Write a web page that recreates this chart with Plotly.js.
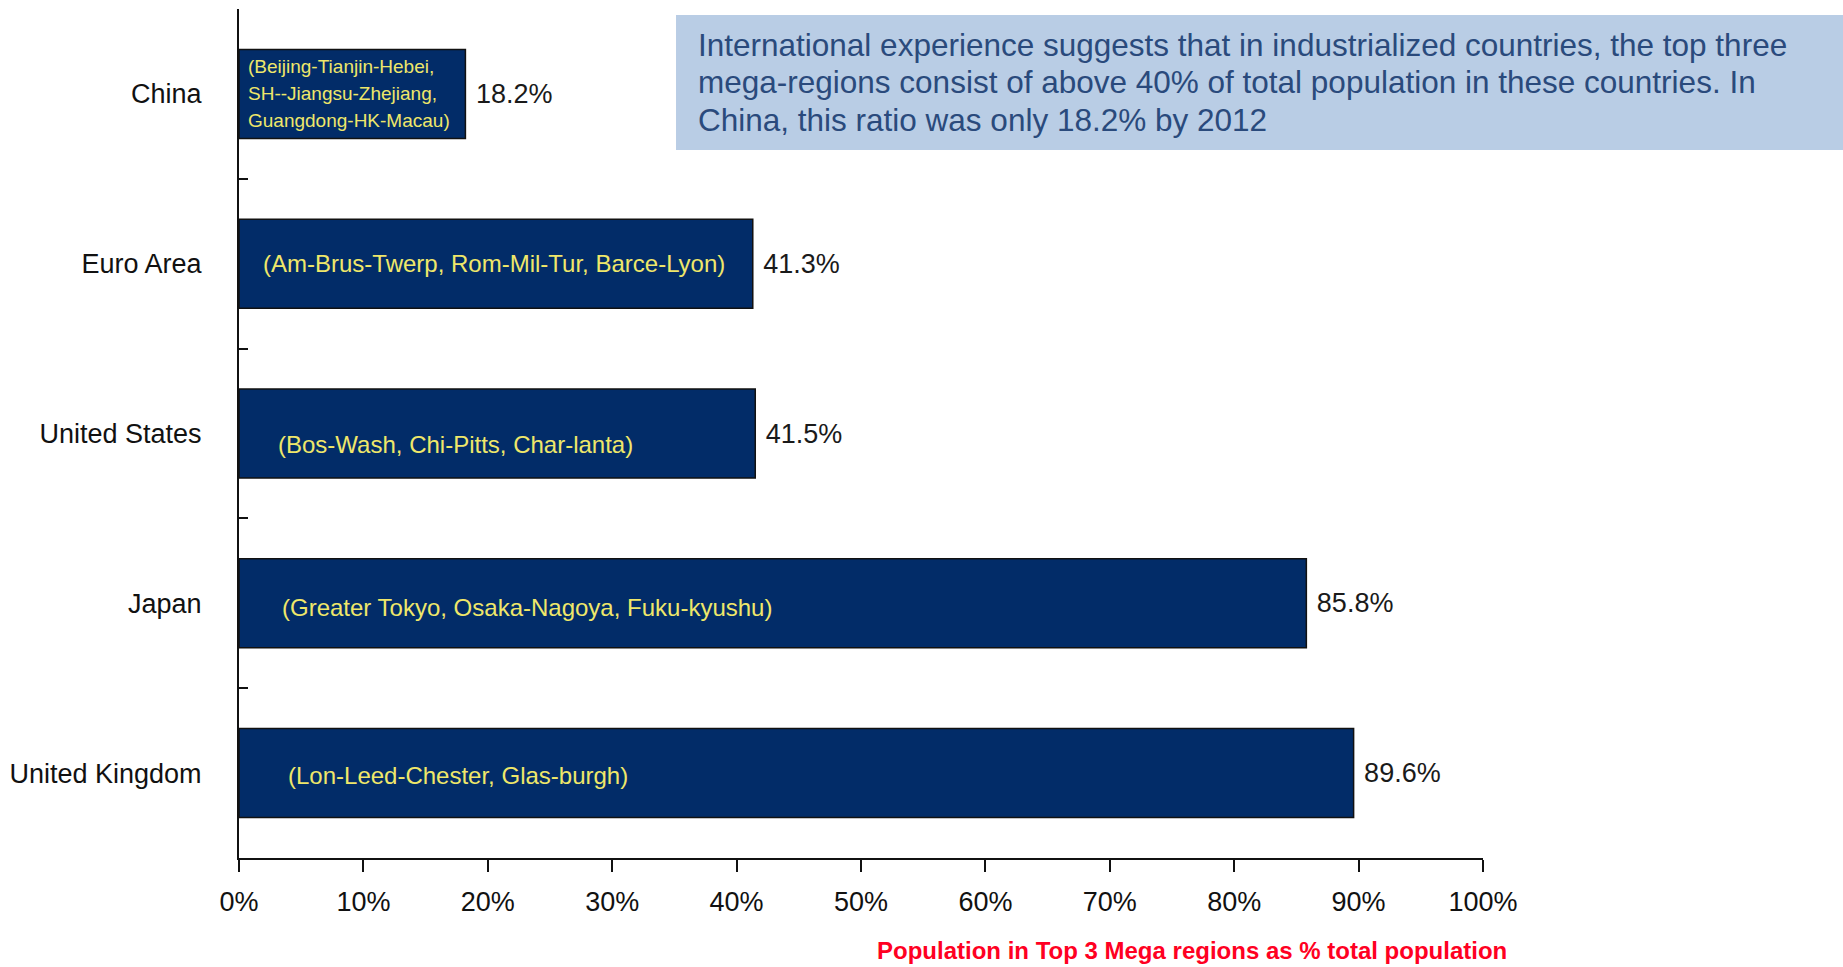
<!DOCTYPE html>
<html>
<head>
<meta charset="utf-8">
<script src="https://cdn.plot.ly/plotly-3.0.1.min.js"></script>
<style>
  html, body { margin: 0; padding: 0; background: #ffffff; }
  #chart { width: 1843px; height: 967px; }
</style>
</head>
<body>
<div id="chart"></div>
<script>
// ---- data ----
const categories = ["China", "Euro Area", "United States", "Japan", "United Kingdom"];
const shares = [18.2, 41.3, 41.5, 85.8, 89.6];
const regionLabels = [
  "(Beijing-Tianjin-Hebei,<br>SH--Jiangsu-Zhejiang,<br>Guangdong-HK-Macau)",
  "(Am-Brus-Twerp, Rom-Mil-Tur, Barce-Lyon)",
  "(Bos-Wash, Chi-Pitts, Char-lanta)",
  "(Greater Tokyo, Osaka-Nagoya, Fuku-kyushu)",
  "(Lon-Leed-Chester, Glas-burgh)"
];
const xTickVals = [0, 10, 20, 30, 40, 50, 60, 70, 80, 90, 100];
const xTickText = ["0%", "10%", "20%", "30%", "40%", "50%", "60%", "70%", "80%", "90%", "100%"];
const noteLines = [
  "International experience suggests that in industrialized countries, the top three",
  "mega-regions consist of above 40% of total population in these countries. In",
  "China, this ratio was only 18.2% by 2012"
];
const xAxisTitle = "Population in Top 3 Mega regions as % total population";

// ---- styling ----
const FONT = "'Liberation Sans', Arial, sans-serif";
const insideStyle = [
  {dx: 7,  dy: 0,   size: 19, lineGap: 27},
  {dx: 22, dy: 0,   size: 24, lineGap: 0},
  {dx: 37, dy: -11, size: 24, lineGap: 0},
  {dx: 41, dy: -4,  size: 24, lineGap: 0},
  {dx: 47, dy: -2,  size: 24, lineGap: 0}
];

const trace = {
  type: "bar",
  orientation: "h",
  y: categories,
  x: shares,
  text: shares.map(v => v.toFixed(1) + "%"),
  texttemplate: "\u00a0%{text}",
  textposition: "outside",
  cliponaxis: false,
  textfont: {family: FONT, size: 27, color: "#1a1a1a"},
  marker: {color: "#022c68", line: {color: "#111111", width: 1.5}},
  hoverinfo: "none"
};

const annotations = [];
categories.forEach((c, i) => {
  const st = insideStyle[i];
  const lines = regionLabels[i].split("<br>");
  const n = lines.length;
  lines.forEach((ln, k) => {
    annotations.push({
      x: 0, y: c, xref: "x", yref: "y",
      xanchor: "left", yanchor: "middle", align: "left",
      xshift: st.dx, yshift: st.dy + ((n - 1) / 2 - k) * st.lineGap,
      text: ln, showarrow: false,
      font: {family: FONT, size: st.size, color: "#efe76a"}
    });
  });
});
const noteY = [0.958, 0.9137, 0.8694];
noteLines.forEach((t, i) => {
  annotations.push({
    x: 0.3674, y: noteY[i], xref: "paper", yref: "paper",
    xanchor: "left", yanchor: "middle", align: "left",
    text: t, showarrow: false,
    font: {family: FONT, size: 31.5, color: "#2a4a7c"}
  });
});
annotations.push({
  x: 0.766, y: -0.1095, xref: "paper", yref: "paper",
  xanchor: "center", yanchor: "middle",
  text: "<b>" + xAxisTitle + "</b>", showarrow: false,
  font: {family: FONT, size: 24, color: "#ff0022"}
});

const layout = {
  width: 1843, height: 967,
  margin: {l: 239, r: 360, t: 9, b: 109, pad: 0},
  paper_bgcolor: "#ffffff", plot_bgcolor: "#ffffff",
  showlegend: false,
  bargap: 0.476,
  font: {family: FONT, color: "#111111"},
  xaxis: {
    range: [0, 100],
    tickvals: xTickVals, ticktext: xTickText,
    showgrid: false, zeroline: false,
    showline: true, linecolor: "#111111", linewidth: 2,
    ticks: "outside", ticklen: 12, tickwidth: 2, tickcolor: "#111111",
    ticklabelstandoff: 7,
    tickfont: {family: FONT, size: 27, color: "#111111"},
    fixedrange: true
  },
  yaxis: {
    type: "category",
    categoryorder: "array", categoryarray: categories,
    autorange: "reversed",
    showgrid: false, zeroline: false,
    showline: true, linecolor: "#111111", linewidth: 2,
    ticks: "inside", ticklen: 9, tickwidth: 2, tickcolor: "#111111",
    tickson: "boundaries",
    ticklabelstandoff: 30,
    tickfont: {family: FONT, size: 27, color: "#111111"},
    fixedrange: true
  },
  shapes: [{
    type: "rect", xref: "paper", yref: "paper",
    x0: 0.3513, x1: 1.2894, y0: 0.8339, y1: 0.9929,
    fillcolor: "#b9cde5", line: {width: 0}, layer: "below"
  }],
  annotations: annotations
};

Plotly.newPlot("chart", [trace], layout, {staticPlot: true, displayModeBar: false});
</script>
</body>
</html>
